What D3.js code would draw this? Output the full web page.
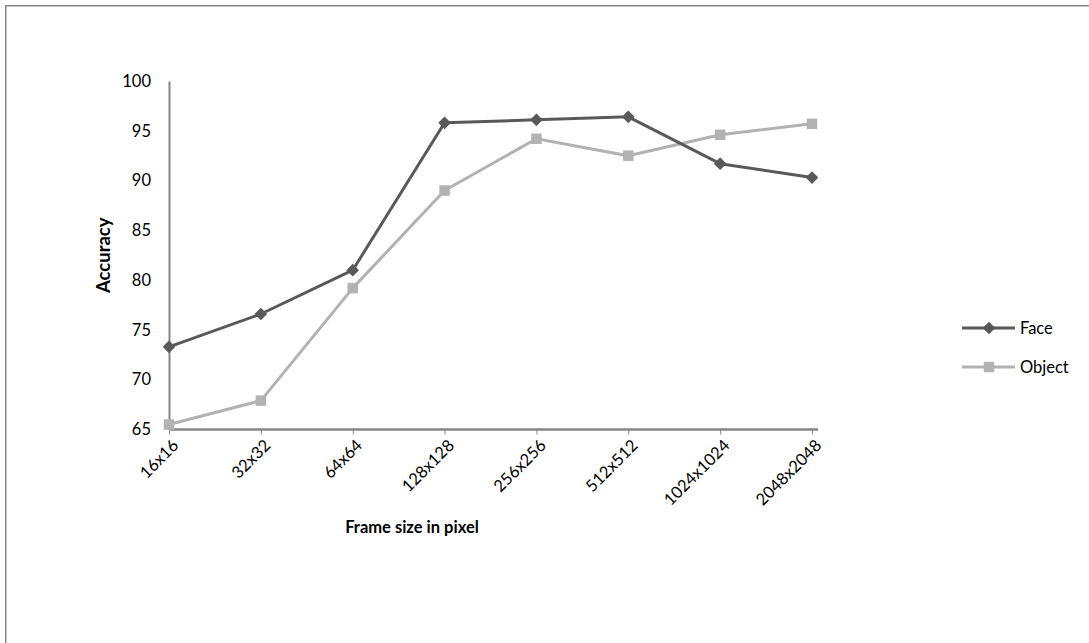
<!DOCTYPE html>
<html>
<head>
<meta charset="utf-8">
<script src="https://cdn.jsdelivr.net/npm/d3@7"></script>
<style>
  html, body { margin: 0; padding: 0; background: #fff; }
  svg { display: block; }
  text { font-family: Lato, "Open Sans", sans-serif; fill: #000; }
</style>
</head>
<body>
<svg id="chart" width="1089" height="643"></svg>
<script>
// Frame sizes tested
const categories = ["16x16", "32x32", "64x64", "128x128", "256x256", "512x512", "1024x1024", "2048x2048"];
// Accuracy per frame size
const faceValues = [73.3, 76.6, 81.0, 95.8, 96.1, 96.4, 91.7, 90.3];
const objectValues = [65.5, 67.9, 79.2, 89.0, 94.2, 92.5, 94.6, 95.7];
const yTicks = [65, 70, 75, 80, 85, 90, 95, 100];
const seriesNames = ["Face", "Object"];

const svg = d3.select("#chart");
const axisColor = "#868686";
const faceColor = "#595959";
const objectColor = "#b2b2b2";

// Outer chart frame (runs past the window on the right and bottom)
svg.append("rect")
  .attr("x", 5.75).attr("y", 5.75)
  .attr("width", 1200).attr("height", 800)
  .attr("fill", "none")
  .attr("stroke", axisColor)
  .attr("stroke-width", 1.5);

const plotLeft = 169, plotTop = 81, plotBottom = 429.5, axisRight = 818;

const x = d3.scalePoint().domain(categories).range([plotLeft, 812]);
const y = d3.scaleLinear().domain([65, 100]).range([plotBottom, plotTop]);

// Y axis: line and labels only
const yAxis = svg.append("g")
  .attr("transform", `translate(${plotLeft},0)`)
  .call(d3.axisLeft(y).tickValues(yTicks).tickSize(0).tickPadding(18));
yAxis.select(".domain").attr("stroke", axisColor).attr("stroke-width", 2);
yAxis.selectAll("text").attr("font-size", 16.5).attr("font-family", "Lato, sans-serif");

// X axis with small ticks below and rotated labels
const xAxis = svg.append("g")
  .attr("transform", `translate(0,${plotBottom})`)
  .call(d3.axisBottom(x).tickSize(5).tickSizeOuter(0));
xAxis.select(".domain")
  .attr("d", `M${plotLeft},0H${axisRight}`)
  .attr("stroke", axisColor).attr("stroke-width", 2.5);
xAxis.selectAll(".tick line").attr("stroke", axisColor).attr("stroke-width", 1);
xAxis.selectAll("text")
  .attr("font-size", 16.5)
  .attr("font-family", "Lato, sans-serif")
  .attr("text-anchor", "end")
  .attr("x", 0).attr("y", 0)
  .attr("dy", "0.35em")
  .attr("transform", "translate(6,13) rotate(-45)");

// Axis titles
svg.append("text")
  .attr("transform", `translate(110,${(plotTop + plotBottom) / 2}) rotate(-90)`)
  .attr("text-anchor", "middle")
  .attr("font-size", 18.5)
  .attr("font-weight", "bold")
  .text("Accuracy");

svg.append("text")
  .attr("x", 412).attr("y", 533)
  .attr("text-anchor", "middle")
  .attr("font-size", 16.5)
  .attr("font-weight", "bold")
  .text("Frame size in pixel");

const line = d3.line()
  .x((d, i) => x(categories[i]))
  .y(d => y(d));

const diamond = d3.symbol().type(d3.symbolSquare).size(80);
const square = d3.symbol().type(d3.symbolSquare).size(110);

// Object series
svg.append("path")
  .datum(objectValues)
  .attr("d", line)
  .attr("fill", "none")
  .attr("stroke", objectColor)
  .attr("stroke-width", 3)
  .attr("stroke-linejoin", "round");
svg.selectAll(".obj-pt")
  .data(objectValues)
  .join("path")
  .attr("class", "obj-pt")
  .attr("d", square)
  .attr("transform", (d, i) => `translate(${x(categories[i])},${y(d)})`)
  .attr("fill", objectColor);

// Face series
svg.append("path")
  .datum(faceValues)
  .attr("d", line)
  .attr("fill", "none")
  .attr("stroke", faceColor)
  .attr("stroke-width", 3)
  .attr("stroke-linejoin", "round");
svg.selectAll(".face-pt")
  .data(faceValues)
  .join("path")
  .attr("class", "face-pt")
  .attr("d", diamond)
  .attr("transform", (d, i) => `translate(${x(categories[i])},${y(d)}) rotate(45)`)
  .attr("fill", faceColor);

// Legend
const legend = svg.append("g");
const legendItems = [
  { name: seriesNames[0], color: faceColor, sym: diamond, rot: 45, y: 328 },
  { name: seriesNames[1], color: objectColor, sym: square, rot: 0, y: 367 }
];
legendItems.forEach(it => {
  legend.append("line")
    .attr("x1", 962).attr("x2", 1015)
    .attr("y1", it.y).attr("y2", it.y)
    .attr("stroke", it.color).attr("stroke-width", 3);
  legend.append("path")
    .attr("d", it.sym)
    .attr("transform", `translate(989,${it.y}) rotate(${it.rot})`)
    .attr("fill", it.color);
  legend.append("text")
    .attr("x", 1020).attr("y", it.y)
    .attr("dy", "0.35em")
    .attr("font-size", 16.5)
    .text(it.name);
});
</script>
</body>
</html>
